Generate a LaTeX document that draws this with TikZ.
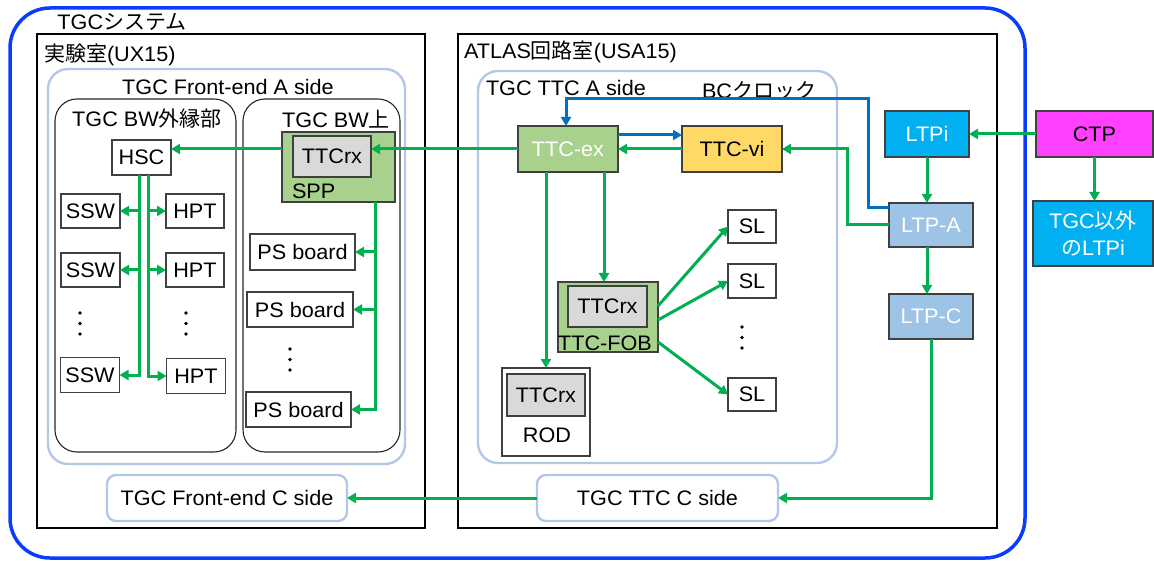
\documentclass[tikz,border=0pt]{standalone}
\usepackage{fontspec}
\setmainfont{Liberation Sans}[FakeStretch=1.03]
\newfontfamily\jp{Noto Sans CJK JP}
\usetikzlibrary{arrows.meta}

\definecolor{sysblue}{HTML}{0A3CFF}
\definecolor{bcblue}{HTML}{0070C0}
\definecolor{linegreen}{HTML}{00B050}
\definecolor{boardgreen}{HTML}{A9D18E}
\definecolor{viyellow}{HTML}{FFD966}
\definecolor{ltpcyan}{HTML}{00B0F0}
\definecolor{ltpblue}{HTML}{9DC3E6}
\definecolor{ctpmag}{HTML}{FF40FF}
\definecolor{chipgray}{HTML}{D9D9D9}
\definecolor{areablue}{HTML}{B4C7E7}
\definecolor{edge}{HTML}{404040}

\newcommand\labfont{\fontsize{21}{24}\selectfont}

\begin{document}
\begin{tikzpicture}[x=1pt,y=-1pt,
  every node/.style={font=\labfont, inner sep=0pt, outer sep=0pt},
  room/.style={draw=black, line width=1.8pt},
  area/.style={draw=areablue, line width=2.4pt, rounded corners=20pt},
  smallarea/.style={draw=areablue, line width=2.4pt, rounded corners=9pt, fill=white},
  part/.style={draw=black!85, line width=1.1pt, rounded corners=22pt},
  unit/.style={draw=edge, line width=1.2pt, fill=white},
  board/.style={unit, fill=boardgreen},
  chip/.style={unit, fill=chipgray},
  gline/.style={draw=linegreen, line width=3pt},
  garrow/.style={gline, -{Triangle[length=9pt,width=10pt]}},
  barrow/.style={draw=bcblue, line width=3pt, -{Triangle[length=9pt,width=10pt]}},
]
\useasboundingbox (0,0) rectangle (1154,561);

% TGC system frame
\node[draw=sysblue, line width=3.5pt, rounded corners=40pt,
      minimum width=1015pt, minimum height=550pt] (sys) at (517.5,283) {};
\node (sysl) at (122,22) {TGC{\jp システム}};

% experiment hall UX15
\node[room, minimum width=388pt, minimum height=494pt] (ux) at (231,281) {};
\node[anchor=west] (uxl) at (44,55) {{\jp 実験室}(UX15)};

\node[area, minimum width=357pt, minimum height=395pt] (fea) at (226.5,266.5) {};
\node (feal) at (228,87) {TGC Front-end A side};

\node[part, minimum width=181pt, minimum height=353pt] (bwo) at (145.5,275.5) {};
\node (bwol) at (147,119) {TGC BW{\jp 外縁部}};
\node[part, minimum width=157pt, minimum height=353pt] (bwu) at (321.5,275.5) {};
\node (bwul) at (336,119) {TGC BW{\jp 上}};

\node[smallarea, minimum width=240pt, minimum height=46pt] (fec) at (227,498) {TGC Front-end C side};

% counting room USA15
\node[room, minimum width=539pt, minimum height=494pt] (usa) at (727.5,281) {};
\node[anchor=west] (usal) at (464,52) {ATLAS{\jp 回路室}(USA15)};

\node[area, minimum width=359pt, minimum height=392pt] (ttca) at (657.5,267) {};
\node[anchor=west] (ttcal) at (486,88) {TGC TTC A side};
\node[anchor=west] (bcl) at (702,91) {BC{\jp クロック}};

\node[smallarea, minimum width=241pt, minimum height=46pt] (ttcc) at (657.5,498) {TGC TTC C side};

% front-end boards
\node[unit, minimum width=59pt, minimum height=35pt] (hsc) at (141.5,157.5) {HSC};
\node[unit, minimum width=59pt, minimum height=34pt] (ssw1) at (90.5,211) {SSW};
\node[unit, minimum width=59pt, minimum height=34pt] (ssw2) at (90.5,270) {SSW};
\node[unit, minimum width=59pt, minimum height=35pt] (ssw3) at (90,375) {SSW};
\node[unit, minimum width=58pt, minimum height=34pt] (hpt1) at (195,211) {HPT};
\node[unit, minimum width=58pt, minimum height=34pt] (hpt2) at (195,270) {HPT};
\node[unit, minimum width=59pt, minimum height=35pt] (hpt3) at (196,376) {HPT};

\node[board, minimum width=113pt, minimum height=70pt] (spp) at (338.5,167) {};
\node[chip, minimum width=78pt, minimum height=41pt] (sppttc) at (332,156.5) {TTCrx};
\node[anchor=west] (sppl) at (292,191) {SPP};

\node[unit, minimum width=105pt, minimum height=36pt] (ps1) at (302.5,252) {PS board};
\node[unit, minimum width=106pt, minimum height=35pt] (ps2) at (300,309.5) {PS board};
\node[unit, minimum width=105pt, minimum height=35pt] (ps3) at (298.5,409.5) {PS board};

% vertical ellipses
\foreach \cx/\cy in {80/313, 186/313, 290/349, 742/327}
  \foreach \k in {0,1,2}
    \fill (\cx,\cy+10.5*\k) circle (1.9pt);

% TTC crate
\node[board, minimum width=100pt, minimum height=46pt, text=white] (ttcex) at (568,149) {TTC-ex};
\node[unit, fill=viyellow, minimum width=100pt, minimum height=46pt] (ttcvi) at (732,149) {TTC-vi};

\node[board, minimum width=100pt, minimum height=70pt] (fob) at (608,317) {};
\node[chip, minimum width=79pt, minimum height=41pt] (fobttc) at (607.5,306.5) {TTCrx};
\node (fobl) at (605,343) {TTC-FOB};

\node[unit, minimum width=88pt, minimum height=88pt] (rod) at (546,412) {};
\node[chip, minimum width=78pt, minimum height=42pt] (rodttc) at (546,395) {TTCrx};
\node (rodl) at (547,435) {ROD};

\node[unit, minimum width=48pt, minimum height=33pt] (sl1) at (752,226.5) {SL};
\node[unit, minimum width=48pt, minimum height=34pt] (sl2) at (752,281) {SL};
\node[unit, minimum width=48pt, minimum height=33pt] (sl3) at (752,394.5) {SL};

% central trigger side
\node[unit, fill=ltpcyan, text=white, minimum width=84pt, minimum height=46pt] (ltpi) at (927,134) {LTPi};
\node[unit, fill=ltpblue, text=white, minimum width=84pt, minimum height=44pt] (ltpa) at (931,225) {LTP-A};
\node[unit, fill=ltpblue, text=white, minimum width=84pt, minimum height=45pt] (ltpc) at (931,316.5) {LTP-C};
\node[unit, fill=ctpmag, minimum width=117pt, minimum height=46pt] (ctp) at (1094.5,134) {CTP};
\node[unit, fill=ltpcyan, text=white, minimum width=120pt, minimum height=65pt,
      align=center, font=\fontsize{21}{27}\selectfont] (other) at (1093,233.5) {TGC{\jp 以外}\\{\jp の}LTPi};

% bend points
\coordinate (hl) at ([xshift=-2.5pt]hsc.south);
\coordinate (hr) at ([xshift=6.5pt]hsc.south);
\coordinate (pl) at ([xshift=36.5pt]spp.south);
\coordinate (bcturn) at (868,99);
\coordinate (gturn) at (847,149);

% signal lines
\draw[garrow] (ttcex.west) -- (ttcex.west -| sppttc.east);
\draw[garrow] (spp.west |- ttcex.west) -- (hsc.east |- ttcex.west);

\draw[garrow] (hl) |- (ssw3.east);
\draw[garrow] (hl |- ssw1.east) -- (ssw1.east);
\draw[garrow] (hl |- ssw2.east) -- (ssw2.east);
\draw[garrow] (hr) |- (hpt3.west);
\draw[garrow] (hr |- hpt1.west) -- (hpt1.west);
\draw[garrow] (hr |- hpt2.west) -- (hpt2.west);

\draw[garrow] (pl) |- (ps3.east);
\draw[garrow] (pl |- ps1.east) -- (ps1.east);
\draw[garrow] (pl |- ps2.east) -- (ps2.east);

\draw[barrow] ([yshift=14pt]ttcex.east) -- ([yshift=14pt]ttcex.east -| ttcvi.west);
\draw[garrow] (ttcvi.west) -- (ttcex.east);

\draw[garrow] ([xshift=-22pt]ttcex.south) -- ([xshift=-22pt]ttcex.south |- rod.north);
\draw[garrow] ([xshift=36pt]ttcex.south) -- ([xshift=36pt]ttcex.south |- fob.north);

\draw[garrow] ([yshift=11pt]fob.east) -- (sl1.west);
\draw[garrow] ([yshift=-3pt]fob.east) -- (sl2.west);
\draw[garrow] ([yshift=-25pt]fob.east) -- (sl3.west);

\draw[barrow] ([yshift=17pt]ltpa.west) -| (bcturn) -| ([xshift=-2pt]ttcex.north);
\draw[garrow] (ltpa.west) -| (gturn) |- (ttcvi.east);

\draw[garrow] (ctp.west) -- (ltpi.east);
\draw[garrow] (ctp.south) -- (ctp.south |- other.north);
\draw[garrow] (ltpi.south) -- (ltpi.south |- ltpa.north);
\draw[garrow] (ltpi.south |- ltpa.south) -- (ltpi.south |- ltpc.north);
\draw[garrow] (ltpc.south) |- (ttcc.east);
\draw[garrow] (ttcc.west) -- (fec.east);
\end{tikzpicture}
\end{document}
